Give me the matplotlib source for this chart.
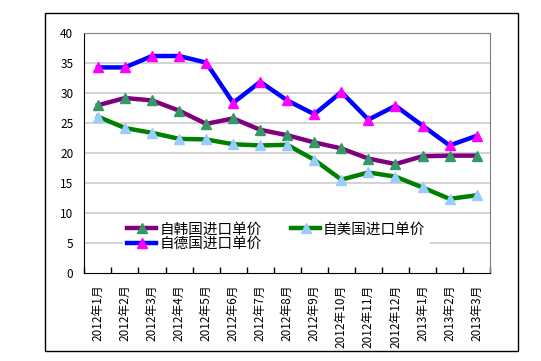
import matplotlib
matplotlib.use('Agg')
import matplotlib.pyplot as plt
from matplotlib.patches import Rectangle

plt.rcParams['font.family'] = ['Noto Sans CJK SC', 'DejaVu Sans']

months = ['2012年1月', '2012年2月', '2012年3月', '2012年4月', '2012年5月',
          '2012年6月', '2012年7月', '2012年8月', '2012年9月', '2012年10月',
          '2012年11月', '2012年12月', '2013年1月', '2013年2月', '2013年3月']
korea = [28.0, 29.2, 28.8, 27.1, 24.9, 25.8, 23.9, 23.0, 21.8, 20.8, 19.1, 18.2, 19.5, 19.6, 19.6]
usa = [26.1, 24.2, 23.4, 22.4, 22.3, 21.5, 21.3, 21.4, 18.9, 15.6, 16.8, 16.1, 14.3, 12.4, 13.0]
germany = [34.3, 34.3, 36.2, 36.2, 35.1, 28.4, 31.9, 28.8, 26.5, 30.2, 25.6, 27.9, 24.6, 21.3, 22.9]

fig = plt.figure(figsize=(5.41, 3.61), dpi=100)
ax = fig.add_axes([0.156, 0.243, 0.75, 0.665])

# outer frame
fig.patches.append(Rectangle((45 / 541, 1 - 351 / 361), 473 / 541, 338 / 361,
                             transform=fig.transFigure, fill=False,
                             edgecolor='black', linewidth=1))

x = list(range(len(months)))
ax.plot(x, korea, color='#800080', lw=3.2, marker='^', ms=7,
        mfc='#339966', mec='#339966', label='自韩国进口单价', zorder=3)
ax.plot(x, usa, color='#008000', lw=3.2, marker='^', ms=7,
        mfc='#99ccff', mec='#99ccff', label='自美国进口单价', zorder=3)
ax.plot(x, germany, color='#0000ff', lw=3.2, marker='^', ms=7,
        mfc='#ff00ff', mec='#ff00ff', label='自德国进口单价', zorder=3)

ax.set_xlim(-0.5, len(months) - 0.5)
ax.set_ylim(0, 40)
ax.set_yticks(range(0, 41, 5))
for v in range(5, 40, 5):
    ax.axhline(v, color='#d4d4d4', lw=1.5, zorder=1)

ax.set_xticks(x)
ax.set_xticklabels(months, rotation=90, fontsize=8.5)
ax.set_xticks([i - 0.5 for i in range(len(months) + 1)], minor=True)
ax.tick_params(axis='x', which='major', length=0, pad=8)
ax.tick_params(axis='x', which='minor', direction='in', length=4, width=1)
ax.tick_params(axis='y', length=0, pad=8, labelsize=8.5)

ax.spines['left'].set_color('black')
ax.spines['bottom'].set_color('black')
ax.spines['top'].set_color('#808080')
ax.spines['right'].set_color('#808080')

h, l = ax.get_legend_handles_labels()
leg = ax.legend([h[0], h[2], h[1]], [l[0], l[2], l[1]], ncol=2,
                loc='upper left', bbox_to_anchor=(0.095, 0.23),
                frameon=True, fontsize=10.5, handlelength=2.0,
                handletextpad=0.2, columnspacing=2.0, labelspacing=0.05,
                borderpad=0.3, borderaxespad=0)
leg.get_frame().set_edgecolor('none')
leg.get_frame().set_facecolor('white')
leg.get_frame().set_alpha(1)
leg.set_zorder(2)

fig.savefig('out.png', dpi=100)
